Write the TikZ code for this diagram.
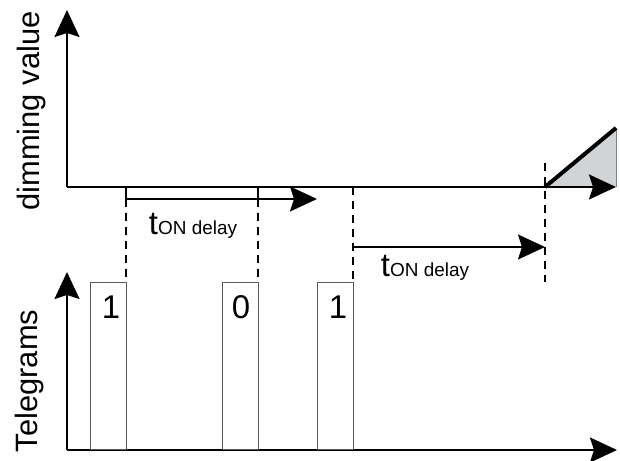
\documentclass[tikz,border=0pt]{standalone}
\usepackage{fontspec}
\setmainfont{Liberation Sans}
\usetikzlibrary{arrows.meta}

\tikzset{
  axis/.style={line width=2bp,-{Stealth[length=27bp,width=25bp,inset=4bp]}},
  tele/.style={line width=1bp,draw=black!65},
  guide/.style={line width=1.8bp,dash pattern=on 8bp off 6bp},
  big/.style={font=\fontsize{31}{31}\selectfont,inner sep=0pt},
  digit/.style={font=\fontsize{33}{33}\selectfont,inner sep=0pt},
}
\newcommand{\tondelay}{{\fontsize{33}{33}\selectfont t}{\fontsize{19}{19}\selectfont ON delay}}
\definecolor{rampfill}{rgb}{0.82,0.83,0.84}

\begin{document}
\begin{tikzpicture}[x=1bp,y=1bp,line join=miter]
\useasboundingbox (0,0) rectangle (620,461);

% Points: dimming value
\coordinate (dO) at (67,274);
\coordinate (dY) at (67,451);
\coordinate (dR) at (545,274);
\coordinate (dX) at (616,274);
\coordinate (dT) at (616,333);

% Points: telegrams
\coordinate (tO) at (67,11);
\coordinate (tY) at (67,189);
\coordinate (tX) at (617,11);

% Ramp
\fill [rampfill] (dR) -- (dT) -- (dX) -- cycle;
\draw [line width=0.8bp,black!50] (dT) -- (dX);
\draw [line width=4bp] (dR) -- (dT);

% Axis: dimming value
\draw [axis] (dX -| dO) -- (dY);
\draw [line width=2bp] (dO) -- (dR);
\draw [axis] (dR) -- (dX);

% Axis: telegrams
\draw [axis] (tO) -- (tY);
\draw [axis] (tO) -- (tX);

% Telegrams
\draw [tele] (90,11) rectangle (126,178);
\draw [tele] (222,11) rectangle (258,178);
\draw [tele] (317,11) rectangle (353,178);
\node [digit] (n1) at (111,154) {1};
\node [digit] (n0) at (241,154) {0};
\node [digit] (n2) at (338,154) {1};

% Delay 1
\coordinate (a1) at (126,262);
\coordinate (b1) at (258,262);
\draw [line width=1.6bp] (126,274) -- (a1);
\draw [line width=1.6bp] (258,274) -- (b1);
\draw [axis,line width=1.6bp] (a1) -- (317,262);
\draw [guide] (a1) -- (126,178);
\draw [guide] (b1) -- (258,178);
\node [inner sep=0pt] (lbl1) at (193,235) {\tondelay};

% Delay 2
\coordinate (a2) at (353,274);
\coordinate (b2) at (545,298);
\draw [guide] (a2) -- (353,178);
\draw [guide] (b2) -- (545,179);
\draw [axis,line width=1.6bp] (353,214) -- (545,214);
\node [inner sep=0pt] (lbl2) at (425,193) {\tondelay};

% Axis labels
\node [big,rotate=90] (ydim) at (32,350) {dimming value};
\node [big,rotate=90] (ytel) at (30,80) {Telegrams};
%
\end{tikzpicture}
\end{document}
